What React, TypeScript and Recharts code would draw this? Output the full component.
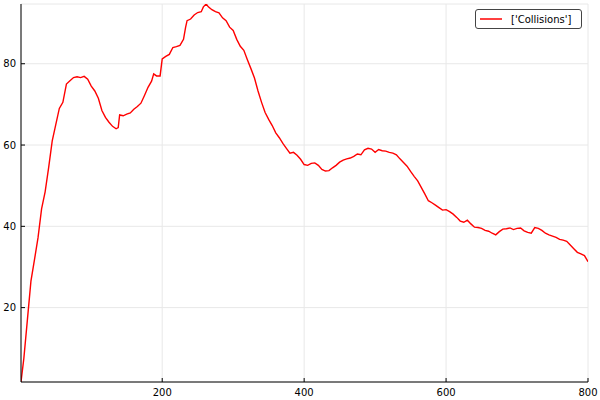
import React from "react";
import { LineChart, Line, XAxis, YAxis, CartesianGrid } from "recharts";

const steps: number[] = [
  1, 5, 10, 15, 20, 25, 30, 35, 40, 45, 50, 55, 60, 65, 70, 75, 80, 85, 90, 95,
  100, 105, 110, 115, 120, 125, 130, 135, 138, 140, 145, 150, 155, 160, 165, 170, 175, 180, 185, 188,
  192, 197, 200, 205, 210, 215, 220, 225, 230, 233, 235, 240, 245, 250, 255, 258, 262, 265, 270, 275,
  280, 285, 290, 295, 300, 305, 310, 315, 320, 325, 330, 335, 340, 345, 350, 355, 360, 365, 370, 375,
  380, 385, 390, 395, 400, 405, 410, 415, 420, 425, 430, 435, 440, 445, 450, 455, 460, 465, 470, 475,
  480, 485, 490, 495, 500, 505, 510, 515, 520, 525, 530, 535, 540, 545, 550, 555, 560, 565, 570, 575,
  580, 585, 590, 595, 600, 605, 610, 615, 620, 625, 630, 635, 640, 645, 650, 655, 660, 665, 670, 675,
  680, 685, 690, 695, 700, 705, 710, 715, 720, 725, 730, 735, 740, 745, 750, 755, 760, 765, 770, 775,
  780, 785, 790, 795, 800,
];

const collisions: number[] = [
  1.7, 7.5, 17.0, 26.5, 31.8, 37.2, 44.3, 48.5, 54.5, 61.0, 65.0, 69.0, 70.5, 75.0, 75.8, 76.6, 76.8, 76.6, 76.9, 76.2,
  74.5, 73.3, 71.5, 68.5, 66.8, 65.6, 64.6, 64.0, 64.3, 67.4, 67.2, 67.6, 67.9, 68.8, 69.5, 70.3, 72.2, 74.2, 75.7, 77.5,
  77.0, 77.0, 81.2, 81.8, 82.3, 84.0, 84.2, 84.5, 86.0, 89.0, 90.6, 91.0, 92.0, 92.6, 92.8, 94.0, 94.7, 94.0, 93.3, 92.8,
  92.5, 91.3, 90.6, 89.0, 88.2, 86.0, 84.3, 83.3, 81.0, 78.8, 76.5, 73.3, 70.5, 68.0, 66.3, 64.8, 63.0, 61.8, 60.4, 59.2,
  58.0, 58.2, 57.5, 56.5, 55.2, 55.0, 55.5, 55.6, 55.0, 54.0, 53.6, 53.7, 54.4, 55.0, 55.8, 56.3, 56.6, 56.8, 57.2, 57.8,
  57.6, 58.8, 59.2, 59.0, 58.2, 58.9, 58.6, 58.5, 58.2, 58.0, 57.6, 56.6, 55.7, 54.8, 53.5, 52.3, 51.2, 49.6, 48.0, 46.3,
  45.8, 45.2, 44.6, 44.0, 44.1, 43.6, 43.0, 42.2, 41.3, 41.0, 41.5, 40.6, 39.8, 39.7, 39.5, 39.0, 38.8, 38.3, 37.9, 38.7,
  39.3, 39.4, 39.6, 39.2, 39.5, 39.6, 38.9, 38.5, 38.3, 39.7, 39.5, 39.0, 38.3, 37.9, 37.6, 37.3, 36.8, 36.6, 36.3, 35.4,
  34.5, 33.6, 33.2, 32.8, 31.3,
];

const xTicks: number[] = [200, 400, 600, 800];
const yTicks: number[] = [20, 40, 60, 80];
const seriesName = "['Collisions']";

const data = steps.map((s, i) => ({ step: s, value: collisions[i] }));

const FONT = "'DejaVu Sans', sans-serif";

function LegendBox() {
  return (
    <div
      style={{
        position: "absolute",
        left: 475,
        top: 9,
        border: "1px solid #444",
        borderRadius: 3,
        background: "#fff",
        display: "flex",
        alignItems: "center",
        width: 107,
        height: 20,
        boxSizing: "border-box",
        fontFamily: FONT,
        fontSize: 10,
        color: "#000",
      }}
    >
      <svg width={32} height={10} style={{ display: "block" }}>
        <line x1={4} y1={5} x2={26} y2={5} stroke="#ff0000" strokeWidth={1.5} />
      </svg>
      <span style={{ whiteSpace: "nowrap", marginLeft: 3 }}>{seriesName}</span>
    </div>
  );
}

export default function App() {
  return (
    <div style={{ position: "absolute", left: 0, top: 0, width: 600, height: 400, background: "#fff" }}>
      <LineChart
        width={600}
        height={400}
        data={data}
        margin={{ top: 4, right: 12, left: 0, bottom: 0 }}
      >
        <CartesianGrid stroke="#e8e8e8" strokeWidth={1} vertical horizontal />
        <XAxis
          dataKey="step"
          type="number"
          domain={[1, 800]}
          ticks={xTicks}
          height={18}
          axisLine={{ stroke: "#000", strokeWidth: 1 }}
          tickLine={{ stroke: "#000", strokeWidth: 1 }}
          tickSize={-4}
          tickMargin={11}
          tick={{ fill: "#000", fontSize: 10, fontFamily: FONT }}
          allowDataOverflow
        />
        <YAxis
          type="number"
          domain={[1.7, 94.7]}
          ticks={yTicks}
          width={21}
          axisLine={{ stroke: "#000", strokeWidth: 1 }}
          tickLine={{ stroke: "#000", strokeWidth: 1 }}
          tickSize={-4}
          tickMargin={9}
          tick={{ fill: "#000", fontSize: 10, fontFamily: FONT }}
          allowDataOverflow
        />
        <Line
          type="linear"
          dataKey="value"
          name={seriesName}
          stroke="#ff0000"
          strokeWidth={1.4}
          dot={false}
          isAnimationActive={false}
        />
      </LineChart>
      <LegendBox />
    </div>
  );
}
